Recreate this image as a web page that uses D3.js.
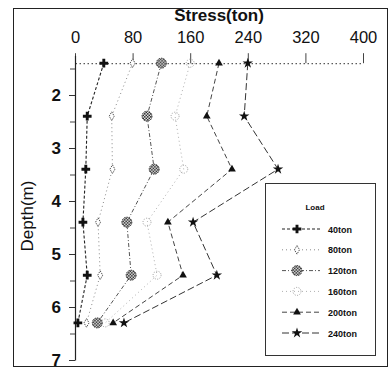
<!DOCTYPE html>
<html>
<head>
<meta charset="utf-8">
<script src="https://cdn.jsdelivr.net/npm/d3@7"></script>
<style>
  html, body { margin: 0; padding: 0; background: #fff; }
  svg { display: block; font-family: "Liberation Sans", Arial, sans-serif; }
</style>
</head>
<body>
<svg id="chart" width="391" height="370"></svg>
<script>
// Measured depths (m) and stress (ton) at each depth for every applied load
const depths = [1.4, 2.4, 3.4, 4.4, 5.4, 6.3];
const loads = ["40ton", "80ton", "120ton", "160ton", "200ton", "240ton"];
const s40  = [40, 17, 15, 11, 17, 4];
const s80  = [80, 51, 52, 32, 35, 16];
const s120 = [120, 100, 110, 72, 78, 31];
const s160 = [160, 139, 151, 100, 114, 42];
const s200 = [200, 183, 218, 129, 150, 53];
const s240 = [240, 235, 282, 164, 197, 68];
const stressTicks = [0, 80, 160, 240, 320, 400];
const depthTicks = [2, 3, 4, 5, 6, 7];
const depthMinorTicks = [1.5, 2.5, 3.5, 4.5, 5.5, 6.5];

const seriesValues = [s40, s80, s120, s160, s200, s240];
const styles = [
  { marker: "plus",     stroke: "#222", dash: "3,2",     width: 1.1 },
  { marker: "diamond",  stroke: "#8a8a8a", dash: "1,3",  width: 1 },
  { marker: "checker",  stroke: "#555", dash: "4,2,1,2", width: 1 },
  { marker: "dotcircle",stroke: "#b0b0b0", dash: "1,3",  width: 1 },
  { marker: "triangle", stroke: "#444", dash: "5,3",     width: 1 },
  { marker: "star",     stroke: "#333", dash: "7,3",     width: 1 }
];

const svg = d3.select("#chart");
const x = d3.scaleLinear().domain([0, 400]).range([75, 363]);
const y = d3.scaleLinear().domain([1.25, 7]).range([55.25, 360]);

// checkered fill for the 120ton marker
const defs = svg.append("defs");
const pat = defs.append("pattern").attr("id", "checker")
  .attr("width", 3).attr("height", 3).attr("patternUnits", "userSpaceOnUse");
pat.append("rect").attr("width", 3).attr("height", 3).attr("fill", "#fff");
pat.append("rect").attr("width", 1.5).attr("height", 1.5).attr("fill", "#111");
pat.append("rect").attr("x", 1.5).attr("y", 1.5).attr("width", 1.5).attr("height", 1.5).attr("fill", "#111");

// outer frame
svg.append("rect").attr("x", 13.5).attr("y", 8.5).attr("width", 374).attr("height", 358)
  .attr("fill", "none").attr("stroke", "#222").attr("stroke-width", 1);

// stress axis along the top
const xAxis = svg.append("g").attr("transform", `translate(0,${y(1.4)})`)
  .call(d3.axisTop(x).tickValues(stressTicks).tickSize(10).tickSizeOuter(0).tickPadding(10));
xAxis.select(".domain").attr("stroke", "#333").attr("stroke-dasharray", "1.5,2.5");
xAxis.selectAll(".tick line").attr("stroke", "#444");
xAxis.selectAll(".tick text").attr("font-size", 16.5)
  .attr("fill", "#111").attr("font-family", "Liberation Sans, Arial, sans-serif");

svg.append("text").attr("x", 219).attr("y", 21).attr("text-anchor", "middle")
  .attr("font-size", 17).attr("font-weight", "bold").attr("fill", "#111")
  .text("Stress(ton)");

// depth axis on the left
const yAxis = svg.append("g").attr("transform", `translate(${x(0)},0)`)
  .call(d3.axisLeft(y).tickValues(depthTicks).tickSize(6).tickSizeOuter(0).tickPadding(8)
    .tickFormat(d3.format("d")));
yAxis.select(".domain").attr("stroke", "#222").attr("stroke-width", 1.2);
yAxis.selectAll(".tick line").attr("stroke", "#333");
yAxis.selectAll(".tick text").attr("font-size", 17).attr("font-weight", "bold")
  .attr("fill", "#111").attr("font-family", "Liberation Sans, Arial, sans-serif");
svg.append("g").attr("transform", `translate(${x(0)},0)`)
  .call(d3.axisLeft(y).tickValues(depthMinorTicks).tickSize(5).tickFormat(""))
  .call(g => g.select(".domain").remove())
  .selectAll(".tick line").attr("stroke", "#444");

svg.append("text").attr("transform", "translate(33,216) rotate(-90)")
  .attr("text-anchor", "middle").attr("font-size", 17)
  .attr("fill", "#111").text("Depth(m)");

// marker drawing
function drawMarker(g, type, cx, cy) {
  const m = g.append("g").attr("transform", `translate(${cx},${cy})`);
  if (type === "plus") {
    m.append("path").attr("d", d3.symbol(d3.symbolCross, 42)())
      .attr("fill", "#111");
  } else if (type === "diamond") {
    m.append("path").attr("d", d3.symbol(d3.symbolDiamond, 22)())
      .attr("fill", "#fff").attr("stroke", "#555").attr("stroke-width", 1)
      .attr("stroke-dasharray", "1.5,1");
  } else if (type === "checker") {
    m.append("circle").attr("r", 5).attr("fill", "url(#checker)")
      .attr("stroke", "#333").attr("stroke-width", 1).attr("stroke-dasharray", "1.5,1");
  } else if (type === "dotcircle") {
    m.append("circle").attr("r", 4).attr("fill", "none")
      .attr("stroke", "#999").attr("stroke-width", 1).attr("stroke-dasharray", "1,1.5");
  } else if (type === "triangle") {
    m.append("path").attr("d", d3.symbol(d3.symbolTriangle, 26)())
      .attr("fill", "#111");
  } else if (type === "star") {
    m.append("path").attr("d", d3.symbol(d3.symbolStar, 34)())
      .attr("fill", "#111");
  }
}

// series lines and markers
const line = d3.line().x(d => x(d[0])).y(d => y(d[1]));
const plot = svg.append("g");
seriesValues.forEach((vals, i) => {
  const pts = vals.map((v, j) => [v, depths[j]]);
  plot.append("path").datum(pts).attr("d", line)
    .attr("fill", "none").attr("stroke", styles[i].stroke)
    .attr("stroke-width", styles[i].width).attr("stroke-dasharray", styles[i].dash);
});
seriesValues.forEach((vals, i) => {
  vals.forEach((v, j) => drawMarker(plot, styles[i].marker, x(v), y(depths[j])));
});

// legend
const lg = svg.append("g");
lg.append("rect").attr("x", 265.5).attr("y", 183.5).attr("width", 110).attr("height", 172)
  .attr("fill", "#fff").attr("stroke", "#333").attr("stroke-width", 1);
lg.append("text").attr("x", 315).attr("y", 210).attr("text-anchor", "middle")
  .attr("font-size", 8).attr("font-weight", "bold").attr("fill", "#111").text("Load");
loads.forEach((name, i) => {
  const ly = 229 + i * 20.8;
  lg.append("line").attr("x1", 282).attr("x2", 320).attr("y1", ly).attr("y2", ly)
    .attr("stroke", styles[i].stroke).attr("stroke-width", styles[i].width)
    .attr("stroke-dasharray", styles[i].dash);
  drawMarker(lg, styles[i].marker, 297, ly);
  lg.append("text").attr("x", 328).attr("y", ly + 3.5)
    .attr("font-size", 9).attr("font-weight", "bold").attr("fill", "#111").text(name);
});
</script>
</body>
</html>
